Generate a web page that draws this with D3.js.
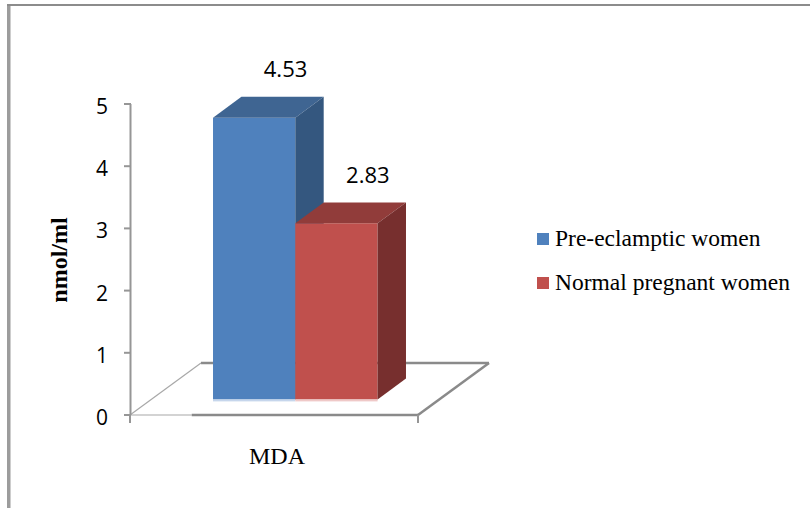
<!DOCTYPE html>
<html>
<head>
<meta charset="utf-8">
<script src="https://cdn.jsdelivr.net/npm/d3@7"></script>
<style>
  html, body { margin: 0; padding: 0; background: #fff; }
  svg { display: block; }
</style>
</head>
<body>
<svg id="chart" width="810" height="508"></svg>
<script>
// ---- data ----
const categories = ["MDA"];
const seriesNames = ["Pre-eclamptic women", "Normal pregnant women"];
const preEclampticValues = [4.53];
const normalPregnantValues = [2.83];
const yTickValues = [0, 1, 2, 3, 4, 5];
const yAxisTitle = "nmol/ml";

const seriesValues = [preEclampticValues, normalPregnantValues];
const faceColors = [
  { front: "#4f81bd", top: "#3f6592", side: "#34577f", edge: "#c6d6ec" },
  { front: "#c0504d", top: "#913c3a", side: "#772f2e", edge: "#efc9c8" }
];

const svg = d3.select("#chart");

// frame
svg.append("rect").attr("x", 7).attr("y", 4).attr("width", 3.5).attr("height", 504).attr("fill", "#9c9c9c");
svg.append("rect").attr("x", 7).attr("y", 4).attr("width", 803).attr("height", 2).attr("fill", "#8c8c8c");

// scales
const y = d3.scaleLinear().domain([0, 5]).range([415, 104]);
const xCat = d3.scaleBand().domain(categories).range([130, 418]).padding(0);
const depth = { dx: 71, dy: -52 };
const gapWidth = 0.75;
const groupW = xCat.bandwidth() / (1 + gapWidth);
const xSer = d3.scaleBand().domain(seriesNames).range([0, groupW]).padding(0);
const zFront = 0.3, zBack = 0.7;
const P = (px, v, z) => [px + z * depth.dx, y(v) + z * depth.dy];

const grey = "#8a8a8a";

// floor
const floorG = svg.append("g");
categories.forEach(cat => {
  const x0 = xCat(cat), x1 = x0 + xCat.bandwidth();
  const gStart = x0 + (xCat.bandwidth() - groupW) / 2;
  const line = (a, b, w, c) => floorG.append("line")
    .attr("x1", a[0]).attr("y1", a[1]).attr("x2", b[0]).attr("y2", b[1])
    .attr("stroke", c).attr("stroke-width", w);
  line(P(x0, 0, 1), P(x1, 0, 1), 2.5, grey);        // back edge
  line(P(x0, 0, 0), P(x0, 0, 1), 1.2, "#a8a8a8");   // left edge
  line(P(x1, 0, 0), P(x1, 0, 1), 2.5, grey);        // right edge
  line(P(x0, 0, 0), P(gStart, 0, 0), 1.2, "#a8a8a8");
  line(P(gStart, 0, 0), P(x1, 0, 0), 2.5, grey);    // front edge
});

// y axis
const axisG = svg.append("g");
axisG.append("line").attr("x1", 130.5).attr("x2", 130.5).attr("y1", y(5)).attr("y2", y(0))
  .attr("stroke", "#969696").attr("stroke-width", 2);
yTickValues.forEach(t => {
  axisG.append("line").attr("x1", 124).attr("x2", 131).attr("y1", y(t)).attr("y2", y(t))
    .attr("stroke", "#969696").attr("stroke-width", 2);
  axisG.append("text").attr("x", 108).attr("y", y(t) + 10)
    .attr("text-anchor", "end")
    .attr("font-family", "'Open Sans', 'Liberation Sans', sans-serif")
    .attr("font-size", 21).attr("fill", "#000").text(t);
});
// category ticks
[xCat.range()[0], xCat.range()[1]].forEach(px => {
  axisG.append("line").attr("x1", px).attr("x2", px).attr("y1", y(0)).attr("y2", y(0) + 8)
    .attr("stroke", "#969696").attr("stroke-width", 2);
});

// bars
const barsG = svg.append("g");
categories.forEach((cat, ci) => {
  const gStart = xCat(cat) + (xCat.bandwidth() - groupW) / 2;
  seriesNames.forEach((s, si) => {
    const v = seriesValues[si][ci];
    const c = faceColors[si];
    const a = gStart + xSer(s), b = a + xSer.bandwidth();
    const poly = (pts, fill) => barsG.append("polygon")
      .attr("points", pts.map(p => p.join(",")).join(" ")).attr("fill", fill);
    // front
    poly([P(a, v, zFront), P(b, v, zFront), P(b, 0, zFront), P(a, 0, zFront)], c.front);
    // top
    poly([P(a, v, zFront), P(b, v, zFront), P(b, v, zBack), P(a, v, zBack)], c.top);
    // side
    poly([P(b, v, zFront), P(b, v, zBack), P(b, 0, zBack), P(b, 0, zFront)], c.side);
    // light base edge
    const fb = P(a, 0, zFront), fe = P(b, 0, zFront);
    barsG.append("rect").attr("x", fb[0]).attr("y", fb[1]).attr("width", fe[0] - fb[0]).attr("height", 2)
      .attr("fill", c.edge);
    // data label
    const lbl = P((a + b) / 2, v, zBack);
    svg.append("text").attr("x", lbl[0] + 3).attr("y", lbl[1] - 20)
      .attr("text-anchor", "middle")
      .attr("font-family", "'Open Sans', 'Liberation Sans', sans-serif")
      .attr("font-size", 22).attr("fill", "#000").text(d3.format(".2f")(v));
  });
  // category label
  svg.append("text").attr("x", xCat(cat) + xCat.bandwidth() / 2 + 3).attr("y", 464)
    .attr("text-anchor", "middle")
    .attr("font-family", "'Liberation Serif', 'Times New Roman', serif")
    .attr("font-size", 24).attr("fill", "#000").text(cat);
});

// y axis title
svg.append("text").attr("transform", "translate(67,260) rotate(-90)")
  .attr("text-anchor", "middle")
  .attr("font-family", "'Liberation Serif', 'Times New Roman', serif")
  .attr("font-weight", "bold").attr("font-size", 24).attr("fill", "#000").text(yAxisTitle);

// legend
const legend = svg.append("g");
seriesNames.forEach((s, i) => {
  const ly = 246 + i * 44;
  legend.append("rect").attr("x", 537).attr("y", ly - 13).attr("width", 12).attr("height", 12)
    .attr("fill", faceColors[i].front);
  legend.append("text").attr("x", 555).attr("y", ly)
    .attr("font-family", "'Liberation Serif', 'Times New Roman', serif")
    .attr("font-size", 23.5).attr("fill", "#000").text(s);
});
</script>
</body>
</html>
